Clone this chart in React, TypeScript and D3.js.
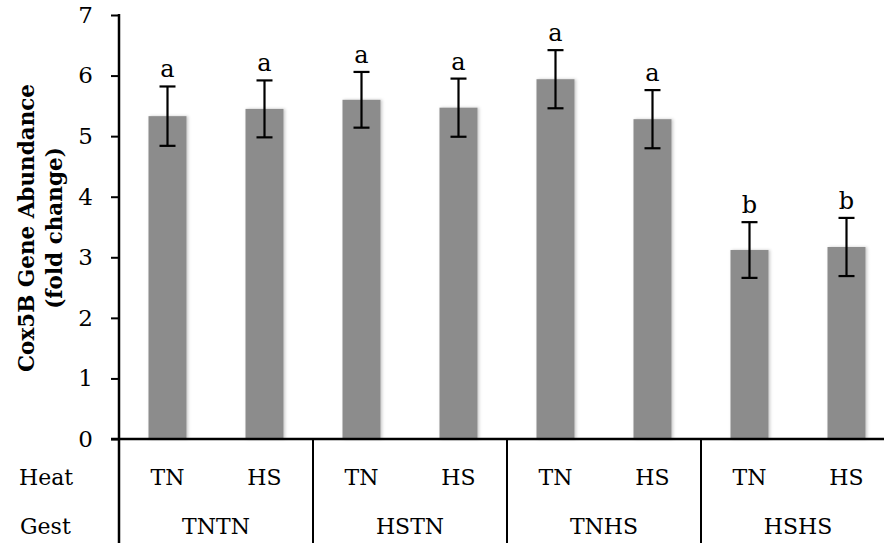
import React, { useEffect, useRef } from "react";
import * as d3 from "d3";

const gestGroups = ["TNTN", "HSTN", "TNHS", "HSHS"];
const heatLevels = ["TN", "HS"];
const means = [5.33, 5.45, 5.6, 5.47, 5.94, 5.28, 3.12, 3.17];
const errors = [0.49, 0.47, 0.46, 0.48, 0.48, 0.48, 0.46, 0.48];
const letters = ["a", "a", "a", "a", "a", "a", "b", "b"];
const yTicks = [0, 1, 2, 3, 4, 5, 6, 7];

function App() {
  const svgRef = useRef<SVGSVGElement>(null);

  useEffect(() => {
    const svg = d3.select(svgRef.current);
    svg.selectAll("*").remove();

    const left = 119,
      right = 895,
      top = 15,
      bottom = 439,
      axisEnd = 884,
      font = "'DejaVu Serif', serif";

    const bars = gestGroups.flatMap((g) => heatLevels.map((h) => ({ g, h, key: g + "-" + h })));

    const x = d3
      .scaleBand()
      .domain(bars.map((b) => b.key))
      .range([left, right])
      .paddingInner(0.6)
      .paddingOuter(0.3);
    const xg = d3.scaleBand().domain(gestGroups).range([left, right]);
    const y = d3.scaleLinear().domain([0, 7]).range([bottom, top]);

    const defs = svg.append("defs");
    const f = defs.append("filter").attr("id", "shadow").attr("x", "-20%").attr("width", "140%");
    f.append("feDropShadow")
      .attr("dx", 1.5)
      .attr("dy", 0)
      .attr("stdDeviation", 1.5)
      .attr("flood-color", "#000")
      .attr("flood-opacity", 0.22);

    const bw = 38;
    svg
      .append("g")
      .selectAll("rect")
      .data(bars)
      .join("rect")
      .attr("x", (d) => x(d.key)! + x.bandwidth() / 2 - bw / 2)
      .attr("width", bw)
      .attr("y", (d, i) => y(means[i]))
      .attr("height", (d, i) => bottom - y(means[i]))
      .attr("fill", "#8c8c8c")
      .attr("filter", "url(#shadow)");

    // error bars + letters
    const eb = svg.append("g").attr("stroke", "#000").attr("stroke-width", 2.2);
    bars.forEach((b, i) => {
      const cx = x(b.key)! + x.bandwidth() / 2;
      const hi = y(means[i] + errors[i]);
      const lo = y(means[i] - errors[i]);
      eb.append("line").attr("x1", cx).attr("x2", cx).attr("y1", hi).attr("y2", lo);
      eb.append("line").attr("x1", cx - 8).attr("x2", cx + 8).attr("y1", hi).attr("y2", hi);
      eb.append("line").attr("x1", cx - 8).attr("x2", cx + 8).attr("y1", lo).attr("y2", lo);
      svg
        .append("text")
        .attr("x", cx)
        .attr("y", hi - 9)
        .attr("text-anchor", "middle")
        .attr("font-family", font)
        .attr("font-size", 24)
        .text(letters[i]);
    });

    // y axis
    const yAxis = svg
      .append("g")
      .attr("transform", `translate(${left},0)`)
      .call(d3.axisLeft(y).tickValues(yTicks).tickSize(8).tickPadding(18).tickFormat(d3.format("d")));
    yAxis.select(".domain").remove();
    yAxis.selectAll(".tick line").attr("stroke", "#000").attr("stroke-width", 2);
    yAxis.selectAll("text").attr("font-family", font).attr("font-size", 23).attr("fill", "#000");

    svg
      .append("line")
      .attr("x1", left)
      .attr("x2", left)
      .attr("y1", top - 1)
      .attr("y2", 543)
      .attr("stroke", "#000")
      .attr("stroke-width", 2.5);
    svg
      .append("line")
      .attr("x1", left - 8)
      .attr("x2", axisEnd)
      .attr("y1", bottom)
      .attr("y2", bottom)
      .attr("stroke", "#000")
      .attr("stroke-width", 2.5);

    // group dividers
    svg
      .append("g")
      .selectAll("line")
      .data(gestGroups.slice(1))
      .join("line")
      .attr("x1", (d) => xg(d)!)
      .attr("x2", (d) => xg(d)!)
      .attr("y1", bottom)
      .attr("y2", 543)
      .attr("stroke", "#000")
      .attr("stroke-width", 2);

    // heat labels
    svg
      .append("g")
      .selectAll("text")
      .data(bars)
      .join("text")
      .attr("x", (d) => x(d.key)! + x.bandwidth() / 2)
      .attr("y", 485)
      .attr("text-anchor", "middle")
      .attr("font-family", font)
      .attr("font-size", 22)
      .text((d) => d.h);

    svg
      .append("g")
      .selectAll("text")
      .data(gestGroups)
      .join("text")
      .attr("x", (d) => xg(d)! + xg.bandwidth() / 2)
      .attr("y", 534)
      .attr("text-anchor", "middle")
      .attr("font-family", font)
      .attr("font-size", 22)
      .text((d) => d);

    svg
      .append("text")
      .attr("x", 19)
      .attr("y", 485)
      .attr("font-family", font)
      .attr("font-size", 22)
      .text("Heat");
    svg
      .append("text")
      .attr("x", 20)
      .attr("y", 534)
      .attr("font-family", font)
      .attr("font-size", 22)
      .text("Gest");

    // y title
    const t = svg
      .append("text")
      .attr("transform", `translate(34,${(top + bottom) / 2 + 1}) rotate(-90)`)
      .attr("text-anchor", "middle")
      .attr("font-family", font)
      .attr("font-weight", "bold")
      .attr("font-size", 21.5);
    t.append("tspan").attr("x", 0).attr("y", 0).text("Cox5B Gene Abundance");
    t.append("tspan").attr("x", 0).attr("y", 28).text("(fold change)");
  }, []);

  return <svg ref={svgRef} width={886} height={543} style={{ position: "absolute", left: 0, top: 0 }} />;
}

export default App;
